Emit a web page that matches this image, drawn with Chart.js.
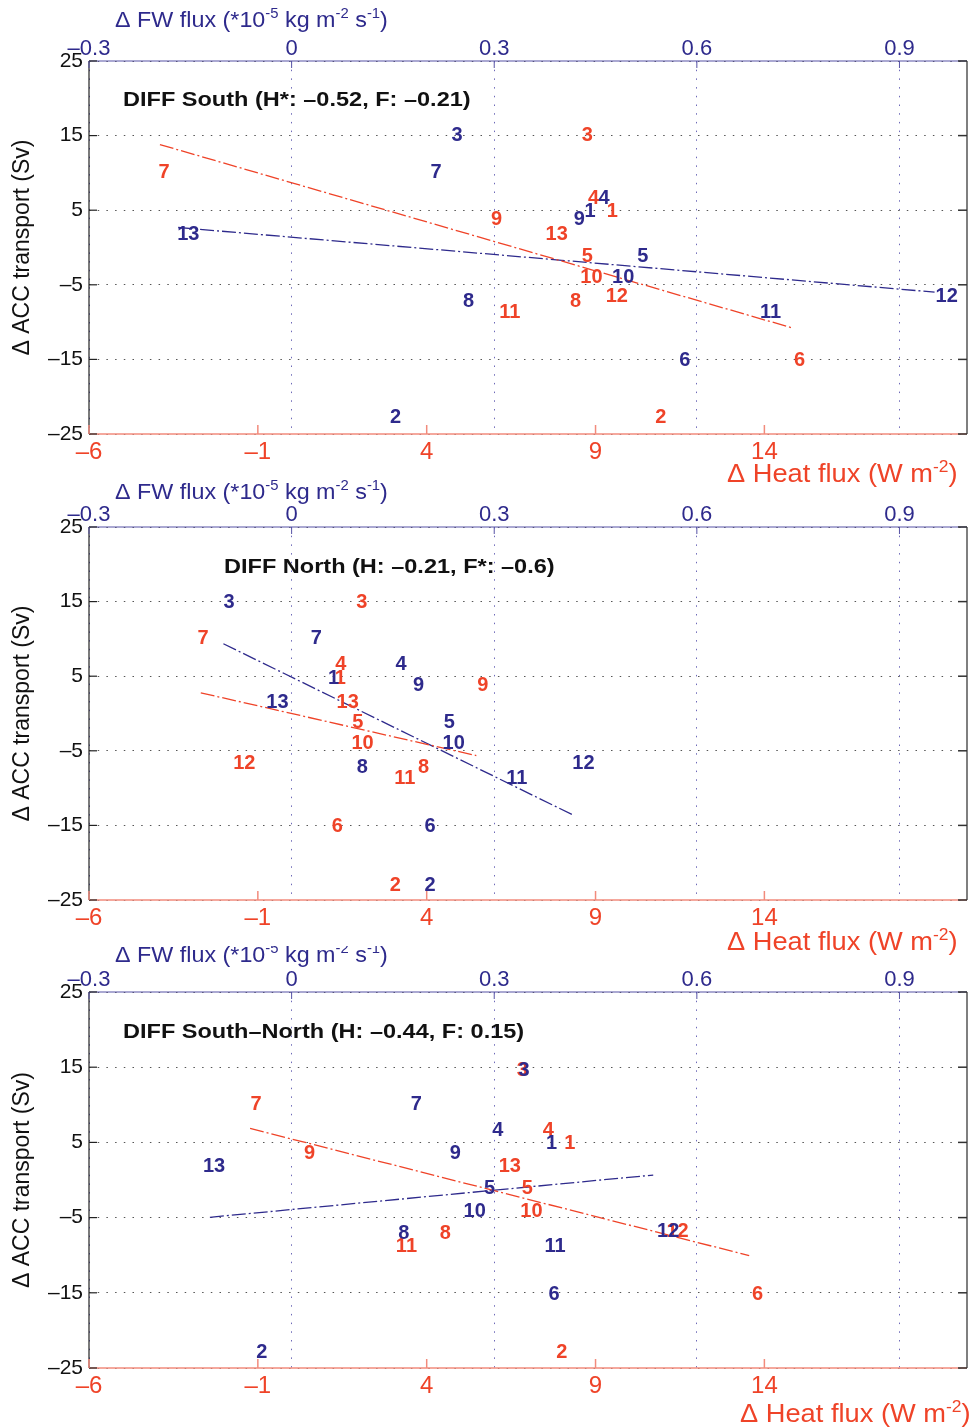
<!DOCTYPE html>
<html lang="en">
<head>
  <meta charset="UTF-8" />
  <title>ACC transport vs heat and FW flux</title>
  <script src="https://cdn.jsdelivr.net/npm/chart.js"></script>
  <style>
    body { margin: 0; background: #fff; }
    #wrap { position: relative; width: 974px; height: 1427px; overflow: hidden; }
    #wrap canvas { position: absolute; left: 0; }
  </style>
</head>
<body>
<div id="wrap">
  <canvas id="southChart"></canvas>
  <canvas id="northChart"></canvas>
  <canvas id="diffChart"></canvas>
</div>

<script>
  // model numbers used as point labels
  const models = ['1', '2', '3', '4', '5', '6', '7', '8', '9', '10', '11', '12', '13'];

  const heatTicks = [-6, -1, 4, 9, 14];
  const fwTicks = [-0.3, 0, 0.3, 0.6, 0.9];
  const accTicks = [-25, -15, -5, 5, 15, 25];

  // DIFF South
  const southAcc  = [4.85, -22.8, 15.0, 6.6, -1.2, -15.1, 10.0, -7.2, 3.8, -4.0, -8.75, -6.6, 1.75];
  const southHeat = [9.5, 10.93, 8.76, 8.94, 8.76, 15.04, -3.78, 8.41, 6.07, 8.88, 6.46, 9.63, 7.85];
  const southFw   = [0.442, 0.154, 0.245, 0.4625, 0.52, 0.582, 0.214, 0.262, 0.426, 0.491, 0.709, 0.970, -0.153];
  const southHeatFitX = [-3.9, 14.87];
  const southHeatFitY = [13.8, -10.84];
  const southFwFitX = [-0.168, 0.952];
  const southFwFitY = [2.68, -5.98];

  // DIFF North
  const northAcc  = [4.7, -23.1, 14.85, 6.6, -1.17, -15.2, 10.0, -7.25, 3.75, -4.03, -8.7, -6.75, 1.5];
  const northHeat = [1.44, 3.07, 2.08, 1.46, 1.96, 1.35, -2.62, 3.91, 5.66, 2.10, 3.35, -1.40, 1.66];
  const northFw   = [0.062, 0.205, -0.0927, 0.162, 0.2335, 0.205, 0.0365, 0.1045, 0.188, 0.24, 0.3335, 0.432, -0.021];
  const northHeatFitX = [-2.69, 5.47];
  const northHeatFitY = [2.77, -5.64];
  const northFwFitX = [-0.101, 0.4157];
  const northFwFitY = [9.35, -13.56];

  // DIFF South-North
  const diffAcc  = [4.87, -22.9, 14.5, 6.65, -1.11, -15.2, 10.05, -7.1, 3.54, -4.2, -8.8, -6.78, 1.76];
  const diffHeat = [8.24, 8.0, 6.83, 7.60, 6.98, 13.80, -1.05, 4.55, 0.53, 7.10, 3.40, 11.43, 6.46];
  const diffFw   = [0.385, -0.0443, 0.344, 0.3054, 0.293, 0.3887, 0.1847, 0.166, 0.2424, 0.271, 0.390, 0.5576, -0.1148];
  const diffHeatFitX = [-1.23, 13.55];
  const diffHeatFitY = [6.86, -10.06];
  const diffFwFitX = [-0.121, 0.5354];
  const diffFwFitY = [-4.96, 0.66];

  const RED = '#ef4328';
  const BLUE = '#2e2a8c';
  const FONT = '"Liberation Sans", Arial, Helvetica, sans-serif';

  const panels = [
    { id: 'southChart', top: 0, height: 488, areaTop: 61, areaBottom: 434,
      title: 'DIFF South (H*: \u20130.52, F: \u20130.21)', titleX: 123, titleY: 100,
      fwTitleY: 27, heatTitleX: 727, heatTitleY: 482,
      acc: southAcc, heat: southHeat, fw: southFw,
      heatFit: [southHeatFitX, southHeatFitY], fwFit: [southFwFitX, southFwFitY] },
    { id: 'northChart', top: 480, height: 476, areaTop: 527, areaBottom: 900,
      title: 'DIFF North (H: \u20130.21, F*: \u20130.6)', titleX: 224, titleY: 567,
      fwTitleY: 499, heatTitleX: 727, heatTitleY: 950,
      acc: northAcc, heat: northHeat, fw: northFw,
      heatFit: [northHeatFitX, northHeatFitY], fwFit: [northFwFitX, northFwFitY] },
    { id: 'diffChart', top: 946, height: 481, areaTop: 992, areaBottom: 1368,
      title: 'DIFF South\u2013North (H: \u20130.44, F: 0.15)', titleX: 123, titleY: 1032,
      fwTitleY: 962, heatTitleX: 740, heatTitleY: 1422,
      acc: diffAcc, heat: diffHeat, fw: diffFw,
      heatFit: [diffHeatFitX, diffHeatFitY], fwFit: [diffFwFitX, diffFwFitY] }
  ];

  function fmt(v) {
    return v < 0 ? '\u2013' + Math.abs(v) : String(v);
  }

  // the original figure has slightly widened lettering
  function wideText(ctx, txt, x, y, sx) {
    ctx.save();
    ctx.translate(x, y);
    ctx.scale(sx, 1);
    ctx.fillText(txt, 0, 0);
    ctx.restore();
    return ctx.measureText(txt).width * sx;
  }

  // text with superscript pieces, left aligned at (x, y) baseline
  function drawRich(ctx, parts, x, y, size, color, sx) {
    ctx.fillStyle = color;
    ctx.textAlign = 'left';
    ctx.textBaseline = 'alphabetic';
    let cx = x;
    parts.forEach(([txt, sup]) => {
      const fs = sup ? Math.round(size * 0.62) : size;
      ctx.font = fs + 'px ' + FONT;
      cx += wideText(ctx, txt, cx, sup ? y - size * 0.42 : y, sx);
    });
  }

  function seg(ctx, x1, y1, x2, y2, color, w) {
    ctx.beginPath();
    ctx.strokeStyle = color;
    ctx.lineWidth = w || 1;
    ctx.moveTo(x1, y1);
    ctx.lineTo(x2, y2);
    ctx.stroke();
  }

  const panelDecor = {
    id: 'panelDecor',
    afterDatasetsDraw(chart, args, opts) {
      const { ctx, chartArea: a, scales } = chart;
      const p = opts.panel;
      ctx.save();

      // frame
      seg(ctx, a.left, a.top, a.right, a.top, '#5652a6', 1.2);
      seg(ctx, a.left, a.bottom, a.right, a.bottom, '#f28b7c', 1.5);
      seg(ctx, a.left, a.top, a.left, a.bottom, '#222', 1.2);
      seg(ctx, a.right, a.top, a.right, a.bottom, '#555', 1.5);

      // inward ticks
      accTicks.forEach(v => {
        const y = scales.y.getPixelForValue(v);
        seg(ctx, a.left, y, a.left + 8, y, '#222', 1.2);
        seg(ctx, a.right - 9, y, a.right, y, '#333', 1.5);
      });
      fwTicks.forEach(v => {
        const x = scales.x2.getPixelForValue(v);
        seg(ctx, x, a.top, x, a.top + 7, '#5652a6', 1);
      });
      heatTicks.forEach(v => {
        const x = scales.x.getPixelForValue(v);
        seg(ctx, x, a.bottom, x, a.bottom - 9, '#f28b7c', 1.5);
      });

      // model number labels
      ctx.font = 'bold 20px ' + FONT;
      ctx.textAlign = 'center';
      ctx.textBaseline = 'middle';
      chart.data.datasets.forEach((ds, i) => {
        if (!ds.labels) return;
        ctx.fillStyle = ds.labelColor;
        chart.getDatasetMeta(i).data.forEach((pt, j) => {
          ctx.fillText(ds.labels[j], pt.x, pt.y);
        });
      });

      // panel title
      ctx.fillStyle = '#111';
      ctx.font = 'bold 21px ' + FONT;
      ctx.textAlign = 'left';
      wideText(ctx, p.title, p.titleX, p.titleY - p.top, 1.12);

      // axis titles
      drawRich(ctx, [['\u0394 FW flux (*10'], ['-5', true], [' kg m'], ['-2', true], [' s'], ['-1', true], [')']],
        115, p.fwTitleY - p.top, 22, BLUE, 1.06);
      drawRich(ctx, [['\u0394 Heat flux (W m'], ['-2', true], [')']],
        p.heatTitleX, p.heatTitleY - p.top, 25, RED, 1.09);

      ctx.restore();
    }
  };

  function makeChart(p) {
    const canvas = document.getElementById(p.id);
    canvas.width = 974;
    canvas.height = p.height;
    canvas.style.top = p.top + 'px';

    const pts = (xs, ys) => xs.map((x, i) => ({ x: x, y: ys[i] }));
    const topH = p.areaTop - p.top;
    const bottomH = p.top + p.height - p.areaBottom;

    return new Chart(canvas, {
      type: 'scatter',
      data: {
        datasets: [
          { data: pts(p.heatFit[0], p.heatFit[1]), xAxisID: 'x', showLine: true,
            borderColor: RED, borderWidth: 1.3, borderDash: [14, 3, 2, 3], pointRadius: 0 },
          { data: pts(p.fwFit[0], p.fwFit[1]), xAxisID: 'x2', showLine: true,
            borderColor: BLUE, borderWidth: 1.3, borderDash: [14, 3, 2, 3], pointRadius: 0 },
          { data: pts(p.heat, p.acc), xAxisID: 'x', pointRadius: 0,
            labels: models, labelColor: RED },
          { data: pts(p.fw, p.acc), xAxisID: 'x2', pointRadius: 0,
            labels: models, labelColor: BLUE }
        ]
      },
      options: {
        responsive: false,
        animation: false,
        layout: { padding: { left: 0, right: 7, top: 0, bottom: 0 } },
        plugins: {
          legend: { display: false },
          tooltip: { enabled: false },
          panelDecor: { panel: p }
        },
        scales: {
          x: {
            type: 'linear', position: 'bottom', min: -6, max: 20,
            afterBuildTicks: s => { s.ticks = heatTicks.map(v => ({ value: v })); },
            afterFit: s => { s.height = bottomH; },
            grid: { display: false },
            border: { display: false },
            ticks: { color: RED, font: { family: FONT, size: 24 }, padding: -4,
                      autoSkip: false, maxRotation: 0, callback: v => fmt(v) }
          },
          x2: {
            type: 'linear', position: 'top', min: -0.3, max: 1.0,
            afterBuildTicks: s => { s.ticks = fwTicks.map(v => ({ value: v })); },
            afterFit: s => { s.height = topH; },
            grid: { color: '#6d69b8', lineWidth: 1, drawTicks: false },
            border: { display: false, dash: [1.5, 7.2] },
            ticks: { color: BLUE, font: { family: FONT, size: 22 }, padding: -1,
                      autoSkip: false, maxRotation: 0, callback: v => fmt(v) }
          },
          y: {
            type: 'linear', position: 'left', min: -25, max: 25,
            afterBuildTicks: s => { s.ticks = accTicks.map(v => ({ value: v })); },
            afterFit: s => { s.width = 89; },
            grid: { color: '#555', lineWidth: 1, drawTicks: false },
            border: { display: false, dash: [1.5, 7.2] },
            ticks: { color: '#111', font: { family: FONT, size: 21 }, padding: 6,
                      autoSkip: false, callback: v => fmt(v) },
            title: { display: true, text: '\u0394 ACC transport (Sv)', color: '#111',
                     font: { family: FONT, size: 23 }, padding: { top: 9, bottom: 0 } }
          }
        }
      },
      plugins: [panelDecor]
    });
  }

  panels.forEach(makeChart);
</script>
</body>
</html>
